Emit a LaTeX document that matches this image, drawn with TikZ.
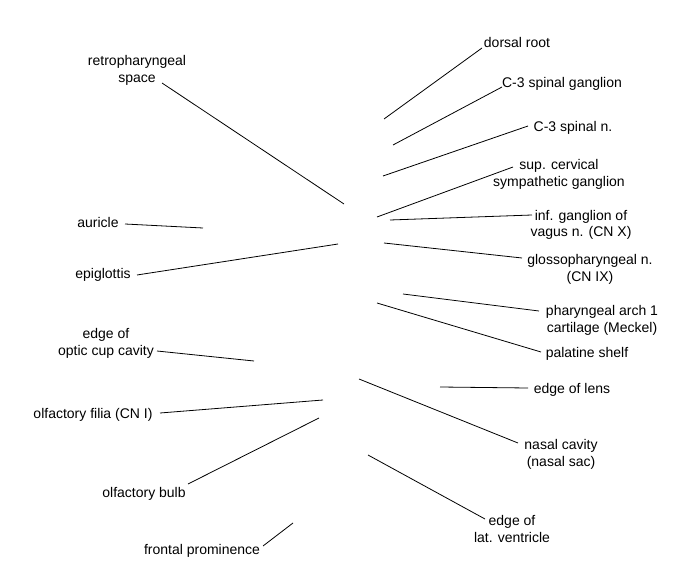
\documentclass[tikz,border=0pt]{standalone}
\usepackage{fontspec}
\setmainfont{Liberation Sans}
\begin{document}
\begin{tikzpicture}[x=1pt,y=-1pt,
	lbl/.style={align=center,anchor=base,inner sep=0pt,font=\fontsize{14}{17}\selectfont},
	lead/.style={line width=0.8pt}
]
	\useasboundingbox (0,0) rectangle (675,580);
	% labels on the left
	\node[lbl] (retro) at (137,83) {retropharyngeal\\space};
	\node[lbl] (auricle) at (98,228) {auricle};
	\node[lbl] (epiglottis) at (103,279) {epiglottis};
	\node[lbl] (opticcup) at (106,355) {edge of\\optic cup cavity};
	\node[lbl] (filia) at (93,418) {olfactory filia (CN I)};
	\node[lbl] (bulb) at (144,497) {olfactory bulb};
	\node[lbl] (frontal) at (202,554) {frontal prominence};
	% labels on the right
	\node[lbl] (dorsal) at (517,48) {dorsal root};
	\node[lbl] (spgang) at (562,88) {C-3 spinal ganglion};
	\node[lbl] (spn) at (573,132) {C-3 spinal n.};
	\node[lbl] (supcerv) at (559,187) {sup. cervical\\sympathetic ganglion};
	\node[lbl] (infgang) at (581,237) {inf. ganglion of\\vagus n. (CN X)};
	\node[lbl] (glosso) at (590,281) {glossopharyngeal n.\\(CN IX)};
	\node[lbl] (meckel) at (602,332) {pharyngeal arch 1\\cartilage (Meckel)};
	\node[lbl] (palatine) at (587,357) {palatine shelf};
	\node[lbl] (lens) at (572,393) {edge of lens};
	\node[lbl] (nasal) at (561,466) {nasal cavity\\(nasal sac)};
	\node[lbl] (ventricle) at (512,542) {edge of\\lat. ventricle};
	% points in the section
	\coordinate (retroEnd) at (344,204);
	\coordinate (auricleEnd) at (203,228);
	\coordinate (epiglottisEnd) at (338,244);
	\coordinate (opticcupEnd) at (254,361);
	\coordinate (filiaEnd) at (323,400);
	\coordinate (bulbEnd) at (319,418);
	\coordinate (frontalEnd) at (293,523);
	\coordinate (dorsalEnd) at (384,119);
	\coordinate (spgangEnd) at (393,145);
	\coordinate (spnEnd) at (383,176);
	\coordinate (supcervEnd) at (377,217);
	\coordinate (infgangEnd) at (390,220);
	\coordinate (glossoEnd) at (384,243);
	\coordinate (meckelEnd) at (403,294);
	\coordinate (palatineEnd) at (377,303);
	\coordinate (lensEnd) at (440,387);
	\coordinate (nasalEnd) at (359,379);
	\coordinate (ventricleEnd) at (368,455);
	% leader lines
	\draw[lead] ([shift={(25,0)}]retro.base) -- (retroEnd);
	\draw[lead] ([shift={(27,-4)}]auricle.base) -- (auricleEnd);
	\draw[lead] ([shift={(34,-4)}]epiglottis.base) -- (epiglottisEnd);
	\draw[lead] ([shift={(51,-4)}]opticcup.base) -- (opticcupEnd);
	\draw[lead] ([shift={(67,-5)}]filia.base) -- (filiaEnd);
	\draw[lead] ([shift={(44,-13)}]bulb.base) -- (bulbEnd);
	\draw[lead] ([shift={(61,-8)}]frontal.base) -- (frontalEnd);
	\draw[lead] ([shift={(-35,0)}]dorsal.base) -- (dorsalEnd);
	\draw[lead] ([shift={(-60,-1)}]spgang.base) -- (spgangEnd);
	\draw[lead] ([shift={(-45,-6)}]spn.base) -- (spnEnd);
	\draw[lead] ([shift={(-46,-20)}]supcerv.base) -- (supcervEnd);
	\draw[lead] ([shift={(-49,-22)}]infgang.base) -- (infgangEnd);
	\draw[lead] ([shift={(-68,-23)}]glosso.base) -- (glossoEnd);
	\draw[lead] ([shift={(-63,-21)}]meckel.base) -- (meckelEnd);
	\draw[lead] ([shift={(-46,-5)}]palatine.base) -- (palatineEnd);
	\draw[lead] ([shift={(-44,-5)}]lens.base) -- (lensEnd);
	\draw[lead] ([shift={(-43,-23)}]nasal.base) -- (nasalEnd);
	\draw[lead] ([shift={(-27,-23)}]ventricle.base) -- (ventricleEnd);
\end{tikzpicture}
\end{document}
